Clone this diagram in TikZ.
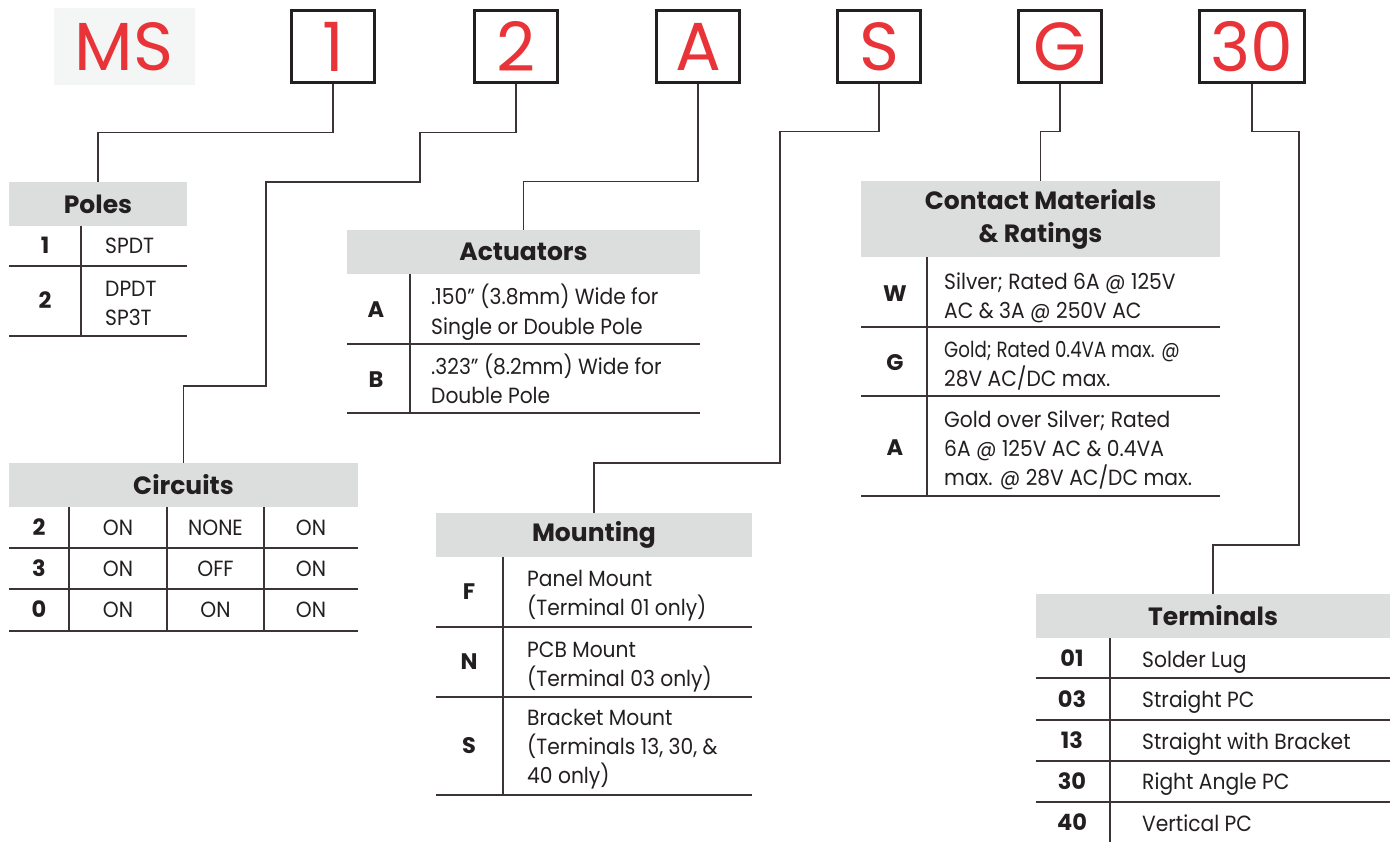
\documentclass[tikz,border=0pt]{standalone}
\usepackage{fontspec}
\setmainfont{Poppins}
\newfontfamily\bodyfont{Poppins}[FakeStretch=0.92]
\usetikzlibrary{calc}
\definecolor{redc}{RGB}{232,52,56}
\definecolor{ink}{RGB}{35,31,32}
\definecolor{hdr}{RGB}{220,221,221}
\definecolor{msbg}{RGB}{244,246,245}
\definecolor{wirec}{RGB}{60,52,52}
\begin{document}
\begin{tikzpicture}[x=1pt,y=-1pt,
  codebox/.style={draw=ink, line width=2.8pt, minimum width=83pt, minimum height=72pt, inner sep=0pt, text=redc, font=\fontsize{68}{68}\selectfont},
  hdrbox/.style={fill=hdr, inner sep=0pt, text=ink, font=\fontsize{25}{33}\selectfont\bfseries, align=center},
  wire/.style={draw=wirec, line width=1.2pt},
  rulel/.style={draw=wirec, line width=1.3pt},
  code/.style={text=ink, font=\fontsize{22.5}{28}\selectfont\bfseries, inner sep=0pt, text height=20.25pt, text depth=4.5pt},
  body/.style={text=ink, font=\bodyfont\fontsize{22}{29.5}\selectfont, inner sep=0pt, anchor=west, text height=19.8pt, text depth=4.4pt},
  mbody/.style={text=ink, font=\bodyfont\fontsize{22}{29}\selectfont, inner sep=0pt, anchor=base west, align=left},
  cbody/.style={text=ink, font=\bodyfont\fontsize{22}{29.5}\selectfont, inner sep=0pt, text height=19.8pt, text depth=4.4pt},
]
\useasboundingbox (0,0) rectangle (1394,842);
% top code boxes
\fill[msbg] (54,8) rectangle (195,85);
\node[text=redc, font=\fontsize{68}{68}\selectfont, inner sep=0pt] (ms) at (124,46.5) {MS};
\node[codebox] (b1) at (333,46.5) {1};
\node[codebox] (b2) at (516,46.5) {2};
\node[codebox] (bA) at (698,46.5) {A};
\node[codebox] (bS) at (879,46.5) {S};
\node[codebox] (bG) at (1060,46.5) {G};
\node[codebox, minimum width=105pt] (b30) at (1252,46.5) {30};

% Poles
\node[hdrbox, minimum width=178pt, minimum height=44pt] (poles) at (98,204) {Poles};
\node[code] (p1) at (45,246) {1};
\node[body] (p1t) at (105,246) {SPDT};
\node[code] (p2) at (45,301) {2};
\node[mbody] (p2t) at (105,325) {DPDT\\SP3T};
\draw[rulel] (9,266) -- (187,266);
\draw[rulel] (9,336) -- (187,336);
\draw[rulel] (81,226) -- (81,336);

% Circuits
\node[hdrbox, minimum width=349pt, minimum height=44pt] (circ) at (183.5,485) {Circuits};
\node[code] (c2) at (39,527.5) {2};
\node[cbody] (c2a) at (118,527.5) {ON};
\node[cbody] (c2b) at (215.5,527.5) {NONE};
\node[cbody] (c2c) at (311,527.5) {ON};
\node[code] (c3) at (39,568.5) {3};
\node[cbody] (c3a) at (118,568.5) {ON};
\node[cbody] (c3b) at (215.5,568.5) {OFF};
\node[cbody] (c3c) at (311,568.5) {ON};
\node[code] (c0) at (39,610) {0};
\node[cbody] (c0a) at (118,610) {ON};
\node[cbody] (c0b) at (215.5,610) {ON};
\node[cbody] (c0c) at (311,610) {ON};
\foreach \yy in {548,589,631} \draw[rulel] (9,\yy) -- (358,\yy);
\foreach \xx in {69,167,264} \draw[rulel] (\xx,507) -- (\xx,631);

% Actuators
\node[hdrbox, minimum width=353pt, minimum height=44pt] (act) at (523.5,252) {Actuators};
\node[code] (aA) at (376,310) {A};
\node[mbody] (aAt) at (431,334) {.150” (3.8mm) Wide for\\Single or Double Pole};
\node[code] (aB) at (376,380) {B};
\node[mbody] (aBt) at (431,403) {.323” (8.2mm) Wide for\\Double Pole};
\draw[rulel] (347,344) -- (700,344);
\draw[rulel] (347,413) -- (700,413);
\draw[rulel] (410,274) -- (410,413);

% Mounting
\node[hdrbox, minimum width=316pt, minimum height=44pt] (mount) at (594,535) {Mounting};
\node[code] (mF) at (469,592) {F};
\node[mbody] (mFt) at (527,615) {Panel Mount\\(Terminal 01 only)};
\node[code] (mN) at (469,662) {N};
\node[mbody] (mNt) at (527,686) {PCB Mount\\(Terminal 03 only)};
\node[code] (mS) at (469,746) {S};
\node[mbody] (mSt) at (527,783) {Bracket Mount\\(Terminals 13, 30, \&\\40 only)};
\foreach \yy in {627,697,795} \draw[rulel] (436,\yy) -- (752,\yy);
\draw[rulel] (503,557) -- (503,795);

% Contact Materials
\node[hdrbox, minimum width=359pt, minimum height=76pt] (cont) at (1040.5,219) {Contact Materials\\\& Ratings};
\node[code] (kW) at (895,294) {W};
\node[mbody] (kWt) at (944,318) {Silver; Rated 6A @ 125V\\AC \& 3A @ 250V AC};
\node[code] (kG) at (895,363) {G};
\node[mbody] (kGt) at (944,386) {\scalebox{0.9}[1]{Gold; Rated 0.4VA max. @}\\28V AC/DC max.};
\node[code] (kA) at (895,448) {A};
\node[mbody] (kAt) at (944,485) {Gold over Silver; Rated\\6A @ 125V AC \& 0.4VA\\max. @ 28V AC/DC max.};
\foreach \yy in {327,396,496} \draw[rulel] (861,\yy) -- (1220,\yy);
\draw[rulel] (927,257) -- (927,496);

% Terminals
\node[hdrbox, minimum width=354pt, minimum height=44pt] (term) at (1213,616) {Terminals};
\node[code] (t01) at (1072,659) {01};
\node[body] (t01t) at (1142,660) {Solder Lug};
\node[code] (t03) at (1072,700) {03};
\node[body] (t03t) at (1142,700) {Straight PC};
\node[code] (t13) at (1072,741) {13};
\node[body] (t13t) at (1142,742) {Straight with Bracket};
\node[code] (t30) at (1072,782) {30};
\node[body] (t30t) at (1142,782) {Right Angle PC};
\node[code] (t40) at (1072,823) {40};
\node[body] (t40t) at (1142,824) {Vertical PC};
\foreach \yy in {678,720,761,802} \draw[rulel] (1036,\yy) -- (1390,\yy);
\draw[rulel] (1110,638) -- (1110,842);

% connectors
\draw[wire] (b1.south) -- ++(0,49) -| (poles.north);
\draw[wire] (b2.south) -- ++(0,49) -| (420,182) -| (266,386) -| (circ.north);
\draw[wire] (bA.south) -- ++(0,98) -| (act.north);
\draw[wire] (bS.south) -- ++(0,48) -| (780,463) -| (mount.north);
\draw[wire] (bG.south) -- ++(0,48) -| (cont.north);
\draw[wire] (b30.south) -- ++(0,48) -| (1299,545) -| (term.north);
\end{tikzpicture}
\end{document}
